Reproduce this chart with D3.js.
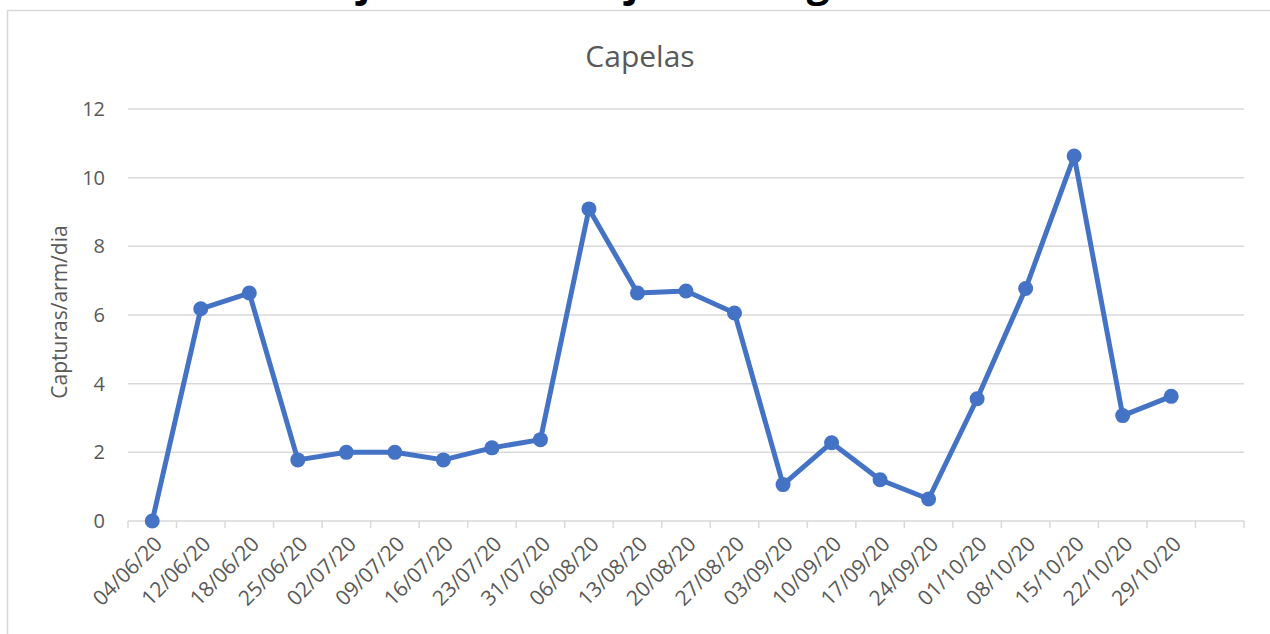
<!DOCTYPE html>
<html>
<head>
<meta charset="utf-8">
<script src="https://cdn.jsdelivr.net/npm/d3@7"></script>
<style>
  html, body { margin: 0; padding: 0; background: #fff; }
  svg { display: block; }
  text { font-family: "Open Sans", "Noto Sans", sans-serif; }
</style>
</head>
<body>
<svg id="chart" width="1270" height="634"></svg>
<script>
const categories = ["04/06/20","12/06/20","18/06/20","25/06/20","02/07/20","09/07/20","16/07/20","23/07/20","31/07/20","06/08/20","13/08/20","20/08/20","27/08/20","03/09/20","10/09/20","17/09/20","24/09/20","01/10/20","08/10/20","15/10/20","22/10/20","29/10/20",""];
const values = [0, 6.18, 6.64, 1.78, 2.0, 2.0, 1.78, 2.13, 2.37, 9.09, 6.64, 6.70, 6.06, 1.06, 2.28, 1.2, 0.64, 3.56, 6.77, 10.63, 3.07, 3.63];
const yTicks = [0, 2, 4, 6, 8, 10, 12];
const chartTitle = "Capelas";
const yTitle = "Capturas/arm/dia";
const cutTitleGlyphs = ["j", "j", "g"];

(function () {
const svg = d3.select("#chart");
const W = 1270, H = 634;
const mLeft = 128, mRight = 1244, mTop = 109, mBottom = 521;
const gridColor = "#d9d9d9", textColor = "#595959", lineColor = "#4472C4";

// chart area border
svg.append("path")
  .attr("d", `M7.5,${H + 2} L7.5,10.5 L${W + 2},10.5`)
  .attr("fill", "none").attr("stroke", gridColor).attr("stroke-width", 1.5);

// cut-off title above the frame (only descenders visible)
const cutX = [364, 632, 818];
svg.selectAll("text.cut").data(cutTitleGlyphs).join("text")
  .attr("class", "cut")
  .attr("x", (d, i) => cutX[i]).attr("y", -3)
  .attr("text-anchor", "middle")
  .attr("font-size", 40).attr("font-weight", "bold").attr("fill", "#000")
  .text(d => d);

const x = d3.scaleBand().domain(categories.map((c, i) => i)).range([mLeft, mRight]).paddingInner(0).paddingOuter(0);
const y = d3.scaleLinear().domain([0, 12]).range([mBottom, mTop]);

// gridlines
svg.append("g").selectAll("line").data(yTicks.filter(t => t !== 0)).join("line")
  .attr("x1", mLeft).attr("x2", mRight)
  .attr("y1", d => y(d)).attr("y2", d => y(d))
  .attr("stroke", gridColor).attr("stroke-width", 1.5);

// y tick labels
svg.append("g").selectAll("text").data(yTicks).join("text")
  .attr("x", 105).attr("y", d => y(d))
  .attr("dy", "0.35em").attr("text-anchor", "end")
  .attr("font-size", 20).attr("fill", textColor)
  .text(d => d);

// x axis line and ticks
svg.append("line").attr("x1", mLeft).attr("x2", mRight).attr("y1", mBottom).attr("y2", mBottom)
  .attr("stroke", gridColor).attr("stroke-width", 1.5);
const boundaries = categories.map((c, i) => x(i)).concat([mRight]);
svg.append("g").selectAll("line").data(boundaries).join("line")
  .attr("x1", d => d).attr("x2", d => d)
  .attr("y1", mBottom).attr("y2", mBottom + 7)
  .attr("stroke", gridColor).attr("stroke-width", 1.5);

// x labels rotated
svg.append("g").selectAll("text").data(categories).join("text")
  .attr("transform", (d, i) => `translate(${x(i) + x.bandwidth() / 2 + 6},${mBottom + 19}) rotate(-45)`)
  .attr("text-anchor", "end").attr("dy", "0.35em")
  .attr("font-size", 21).attr("fill", textColor)
  .text(d => d);

// titles
svg.append("text").attr("x", 640).attr("y", 67).attr("text-anchor", "middle")
  .attr("font-size", 30).attr("fill", textColor).text(chartTitle);
svg.append("text").attr("transform", `translate(67,312) rotate(-90)`)
  .attr("text-anchor", "middle").attr("font-size", 21).attr("fill", textColor).text(yTitle);

// line + markers
const pts = values.map((v, i) => [x(i) + x.bandwidth() / 2, y(v)]);
svg.append("path").attr("d", d3.line()(pts))
  .attr("fill", "none").attr("stroke", lineColor).attr("stroke-width", 5)
  .attr("stroke-linejoin", "round").attr("stroke-linecap", "round");
svg.append("g").selectAll("circle").data(values).join("circle")
  .attr("cx", (d, i) => x(i) + x.bandwidth() / 2).attr("cy", d => y(d))
  .attr("r", 7.5).attr("fill", lineColor);
})();
</script>
</body>
</html>
